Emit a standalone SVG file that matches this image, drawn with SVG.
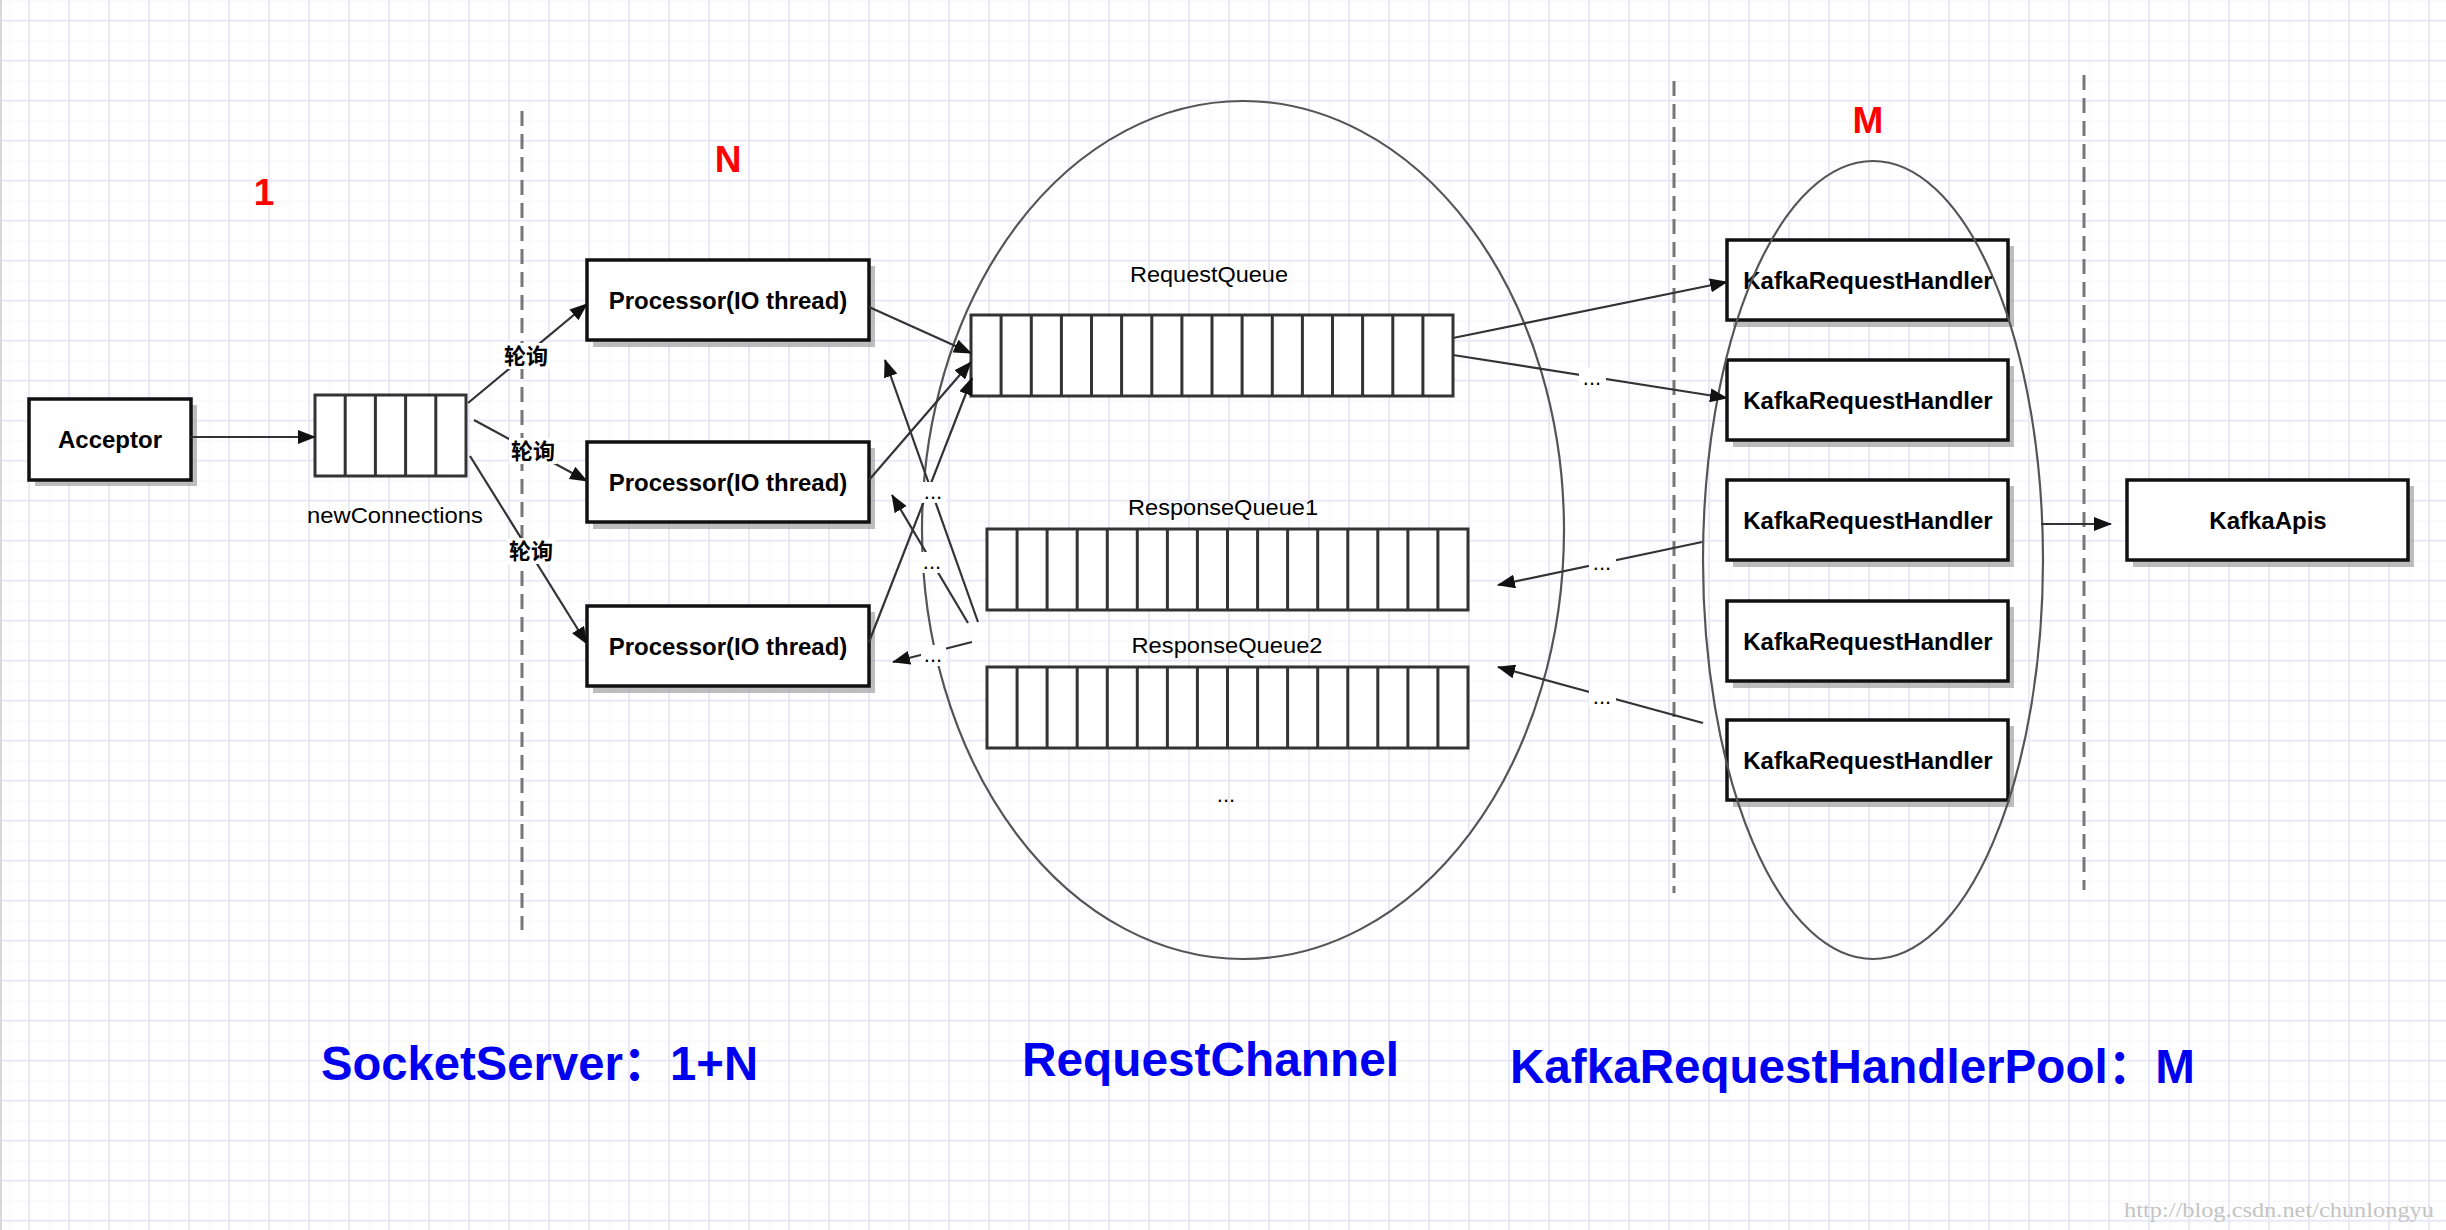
<svg xmlns="http://www.w3.org/2000/svg" width="2446" height="1230" viewBox="0 0 2446 1230">
<style>
.box{fill:#fff;stroke:#111;stroke-width:3.5}
.shadow{fill:#9a9a9a;opacity:.65}
.q{fill:#fff;stroke:#333;stroke-width:3}
.cell{fill:none;stroke:#333;stroke-width:3}
.edge{fill:none;stroke:#333;stroke-width:2.2}
.dash{stroke:#777;stroke-width:3;stroke-dasharray:15 8}
.ell{fill:none;stroke:#555;stroke-width:2.2}
.bt{font-family:"Liberation Sans",Arial,sans-serif;font-weight:bold;font-size:24px;fill:#000;text-anchor:middle}
.lt{font-family:"Liberation Sans",Arial,sans-serif;font-size:22px;fill:#000;text-anchor:middle}
.cjk{font-family:"Liberation Sans","Noto Sans CJK SC",sans-serif;font-weight:bold;font-size:22px;fill:#000;text-anchor:middle}
.red{font-family:"Liberation Sans",Arial,sans-serif;font-weight:bold;font-size:37px;fill:#f00;text-anchor:middle}
.blue{font-family:"Liberation Sans","Noto Sans CJK SC",sans-serif;font-weight:bold;font-size:48px;fill:#0000ee}
.bg{fill:#fff}
</style>
<defs>
<pattern id="grid" x="9" y="0.7" width="40" height="40" patternUnits="userSpaceOnUse">
<path d="M0 0V40M0 0H40" stroke="#f1f1fb" stroke-width="1.3" fill="none"/>
<path d="M20 0V40M0 20H40" stroke="#e9e9f7" stroke-width="2" fill="none"/>
</pattern>
<marker id="arr" markerUnits="userSpaceOnUse" markerWidth="18" markerHeight="14" refX="17" refY="7" orient="auto">
<path d="M0 0L18 7L0 14z" fill="#111"/>
</marker>
</defs>
<rect width="2446" height="1230" fill="#fff"/>
<rect width="2446" height="1230" fill="url(#grid)"/>
<rect x="0" y="0" width="2" height="1230" fill="#d8d8d8"/>

<g id="ellipses-back">
<ellipse class="ell" cx="1243" cy="530" rx="321" ry="429"/>
</g>

<g id="separators">
<line class="dash" x1="522" y1="111" x2="522" y2="930"/>
<line class="dash" x1="1674" y1="81" x2="1674" y2="893"/>
<line class="dash" x1="2084" y1="75" x2="2084" y2="890"/>
</g>

<g id="titles">
<text class="red" x="264" y="205">1</text>
<text class="red" x="728" y="172">N</text>
<text class="red" x="1868" y="133">M</text>
</g>

<g id="acceptor">
<rect class="shadow" x="35" y="405" width="162" height="81"/>
<rect class="box" x="29" y="399" width="162" height="81"/>
<text class="bt" x="110" y="448">Acceptor</text>
</g>

<g id="newConnections">
<rect class="q" x="315" y="395" width="151" height="81"/>
<path class="cell" d="M345.2 395V476M375.4 395V476M405.6 395V476M435.8 395V476"/>
<text class="lt" x="395" y="523" textLength="176" lengthAdjust="spacingAndGlyphs">newConnections</text>
</g>

<g id="processor1">
<rect class="shadow" x="593" y="266" width="282" height="81"/>
<rect class="box" x="587" y="260" width="282" height="80"/>
<text class="bt" x="728" y="309">Processor(IO thread)</text>
</g>
<g id="processor2">
<rect class="shadow" x="593" y="448" width="282" height="81"/>
<rect class="box" x="587" y="442" width="282" height="80"/>
<text class="bt" x="728" y="491">Processor(IO thread)</text>
</g>
<g id="processor3">
<rect class="shadow" x="593" y="612" width="282" height="81"/>
<rect class="box" x="587" y="606" width="282" height="80"/>
<text class="bt" x="728" y="655">Processor(IO thread)</text>
</g>

<g id="requestQueue">
<text class="lt" x="1209" y="282" textLength="158" lengthAdjust="spacingAndGlyphs">RequestQueue</text>
<rect class="q" x="971" y="315" width="482" height="81"/>
<path class="cell" d="M1001.1 315V396M1031.3 315V396M1061.4 315V396M1091.5 315V396M1121.6 315V396M1151.8 315V396M1181.9 315V396M1212 315V396M1242.1 315V396M1272.3 315V396M1302.4 315V396M1332.5 315V396M1362.6 315V396M1392.8 315V396M1422.9 315V396"/>
</g>

<g id="responseQueue1">
<text class="lt" x="1223" y="515" textLength="190" lengthAdjust="spacingAndGlyphs">ResponseQueue1</text>
<rect class="q" x="987" y="529" width="481" height="81"/>
<path class="cell" d="M1017.1 529V610M1047.1 529V610M1077.2 529V610M1107.3 529V610M1137.3 529V610M1167.4 529V610M1197.4 529V610M1227.5 529V610M1257.6 529V610M1287.6 529V610M1317.7 529V610M1347.8 529V610M1377.8 529V610M1407.9 529V610M1437.9 529V610"/>
</g>

<g id="responseQueue2">
<text class="lt" x="1227" y="653" textLength="191" lengthAdjust="spacingAndGlyphs">ResponseQueue2</text>
<rect class="q" x="987" y="667" width="481" height="81"/>
<path class="cell" d="M1017.1 667V748M1047.1 667V748M1077.2 667V748M1107.3 667V748M1137.3 667V748M1167.4 667V748M1197.4 667V748M1227.5 667V748M1257.6 667V748M1287.6 667V748M1317.7 667V748M1347.8 667V748M1377.8 667V748M1407.9 667V748M1437.9 667V748"/>
<text class="lt" x="1226" y="802">...</text>
</g>

<g id="handler1">
<rect class="shadow" x="1733" y="246" width="281" height="81"/>
<rect class="box" x="1727" y="240" width="281" height="80"/>
<text class="bt" x="1868" y="289">KafkaRequestHandler</text>
</g>
<g id="handler2">
<rect class="shadow" x="1733" y="366" width="281" height="81"/>
<rect class="box" x="1727" y="360" width="281" height="80"/>
<text class="bt" x="1868" y="409">KafkaRequestHandler</text>
</g>
<g id="handler3">
<rect class="shadow" x="1733" y="486" width="281" height="81"/>
<rect class="box" x="1727" y="480" width="281" height="80"/>
<text class="bt" x="1868" y="529">KafkaRequestHandler</text>
</g>
<g id="handler4">
<rect class="shadow" x="1733" y="607" width="281" height="81"/>
<rect class="box" x="1727" y="601" width="281" height="80"/>
<text class="bt" x="1868" y="650">KafkaRequestHandler</text>
</g>
<g id="handler5">
<rect class="shadow" x="1733" y="726" width="281" height="81"/>
<rect class="box" x="1727" y="720" width="281" height="80"/>
<text class="bt" x="1868" y="769">KafkaRequestHandler</text>
</g>

<g id="kafkaApis">
<rect class="shadow" x="2133" y="486" width="281" height="81"/>
<rect class="box" x="2127" y="480" width="281" height="80"/>
<text class="bt" x="2268" y="529">KafkaApis</text>
</g>

<g id="handlerPoolEllipse">
<ellipse class="ell" cx="1873" cy="560" rx="170" ry="399"/>
</g>

<g id="connectors">
<line class="edge" x1="191" y1="437" x2="315" y2="437" marker-end="url(#arr)"/>
<line class="edge" x1="468" y1="403" x2="587" y2="304" marker-end="url(#arr)"/>
<line class="edge" x1="474" y1="420" x2="587" y2="481" marker-end="url(#arr)"/>
<line class="edge" x1="470" y1="456" x2="587" y2="644" marker-end="url(#arr)"/>
<line class="edge" x1="869" y1="307" x2="971" y2="353" marker-end="url(#arr)"/>
<line class="edge" x1="869" y1="480" x2="971" y2="362" marker-end="url(#arr)"/>
<line class="edge" x1="869" y1="642" x2="972" y2="378" marker-end="url(#arr)"/>
<line class="edge" x1="978" y1="622" x2="885" y2="360" marker-end="url(#arr)"/>
<line class="edge" x1="968" y1="623" x2="892" y2="495" marker-end="url(#arr)"/>
<line class="edge" x1="972" y1="642" x2="893" y2="662" marker-end="url(#arr)"/>
<line class="edge" x1="1453" y1="338" x2="1727" y2="282" marker-end="url(#arr)"/>
<line class="edge" x1="1453" y1="355" x2="1727" y2="398" marker-end="url(#arr)"/>
<line class="edge" x1="1702" y1="542" x2="1498" y2="585" marker-end="url(#arr)"/>
<line class="edge" x1="1703" y1="723" x2="1498" y2="667" marker-end="url(#arr)"/>
<line class="edge" x1="2041" y1="524" x2="2111" y2="524" marker-end="url(#arr)"/>
</g>

<g id="edge-labels">
<rect class="bg" x="502" y="343" width="48" height="26"/>
<text class="cjk" x="526" y="364">轮询</text>
<rect class="bg" x="509" y="438" width="48" height="26"/>
<text class="cjk" x="533" y="459">轮询</text>
<rect class="bg" x="507" y="538" width="48" height="26"/>
<text class="cjk" x="531" y="559">轮询</text>
<rect class="bg" x="921" y="482" width="25" height="21"/>
<text class="lt" x="933" y="499">...</text>
<rect class="bg" x="920" y="552" width="25" height="21"/>
<text class="lt" x="932" y="569">...</text>
<rect class="bg" x="921" y="645" width="25" height="21"/>
<text class="lt" x="933" y="662">...</text>
<rect class="bg" x="1579" y="368" width="27" height="21"/>
<text class="lt" x="1592" y="385">...</text>
<rect class="bg" x="1589" y="553" width="27" height="21"/>
<text class="lt" x="1602" y="570">...</text>
<rect class="bg" x="1589" y="687" width="27" height="21"/>
<text class="lt" x="1602" y="704">...</text>
</g>

<g id="captions">
<text class="blue" x="321" y="1080" textLength="437" lengthAdjust="spacingAndGlyphs">SocketServer：1+N</text>
<text class="blue" x="1022" y="1076" textLength="377" lengthAdjust="spacingAndGlyphs">RequestChannel</text>
<text class="blue" x="1510" y="1083" textLength="685" lengthAdjust="spacingAndGlyphs">KafkaRequestHandlerPool：M</text>
<text x="2124" y="1217" textLength="310" lengthAdjust="spacingAndGlyphs" style="font-family:'Liberation Serif',serif;font-size:21px;fill:#c4c4c4">http://blog.csdn.net/chunlongyu</text>
</g>
</svg>
